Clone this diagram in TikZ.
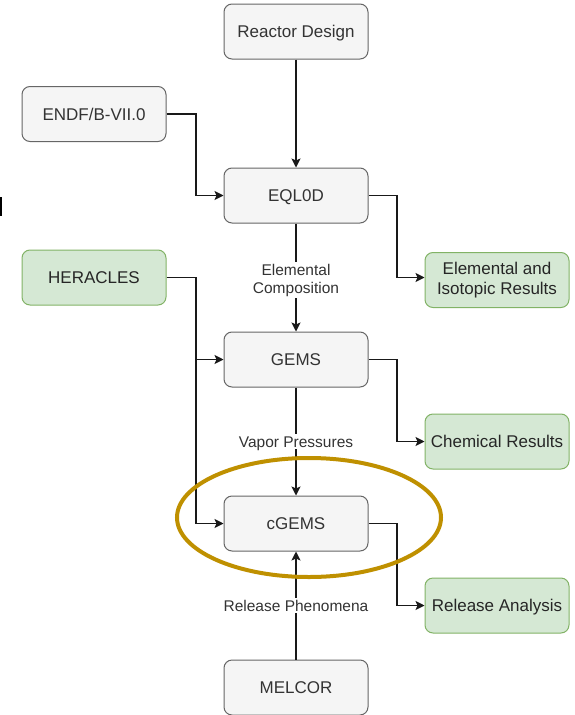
\documentclass[tikz,border=0pt]{standalone}
\usepackage{fontspec}
\setmainfont{Liberation Sans}
\usetikzlibrary{arrows.meta,shapes.geometric}
\definecolor{greyfill}{HTML}{F5F5F5}
\definecolor{greyline}{HTML}{666666}
\definecolor{greytext}{HTML}{333333}
\definecolor{greenfill}{HTML}{D5E8D4}
\definecolor{greenline}{HTML}{82B366}
\definecolor{gold}{HTML}{BF9000}
\tikzset{
  greybox/.style={draw=greyline, fill=greyfill, text=greytext, line width=1pt, rounded corners=8pt,
    minimum width=144pt, minimum height=55pt, inner sep=0pt, align=center,
    font=\fontsize{17}{19.5}\selectfont},
  oneline/.style={text height=12.2pt, text depth=0pt},
  greenbox/.style={greybox, draw=greenline, fill=greenfill, text=black!85},
  conn/.style={draw=black!90, line width=1.2pt, -{Stealth[length=9pt,width=9pt,inset=2pt]}},
  lbl/.style={fill=white, text=greytext, inner sep=1.5pt, align=center, font=\fontsize{15.5}{18}\selectfont},
}
\begin{document}
\begin{tikzpicture}[x=1pt,y=-1pt]
\useasboundingbox (0,0) rectangle (574,715);
\fill[black] (0,197) rectangle (2,216);
\node[greybox,oneline] (reactor) at (296,31.5) {Reactor Design};
\node[greybox,oneline] (endf) at (94,114) {ENDF/B-VII.0};
\node[greybox,oneline] (eql) at (296,195.5) {EQL0D};
\node[greenbox,oneline] (her) at (94,277.5) {HERACLES};
\node[greenbox] (elem) at (497,280) {Elemental and\\Isotopic Results};
\node[greybox,oneline] (gems) at (296,359.5) {GEMS};
\node[greenbox,oneline] (chem) at (497,441.5) {Chemical Results};
\node[greybox,oneline] (cgems) at (296,523.5) {cGEMS};
\node[greenbox,oneline] (rel) at (497,605.5) {Release Analysis};
\node[greybox,oneline] (mel) at (296,687.5) {MELCOR};
\coordinate (lx) at (196,0);
\coordinate (rx) at (397,0);
\draw[conn] (reactor) -- (eql);
\draw[conn] (endf.east) -| (lx |- eql) -- (eql.west);
\draw[conn] (eql.east) -| (rx |- her) -- (elem.west |- her);
\draw[conn] (her.east) -| (lx |- gems) -- (gems.west);
\draw[conn] (her.east) -| (lx |- cgems) -- (cgems.west);
\draw[conn] (gems.east) -| (rx |- chem) -- (chem.west);
\draw[conn] (cgems.east) -| (rx |- rel) -- (rel.west);
\draw[conn] (eql) -- node[lbl, yshift=-2.5pt] {Elemental\\Composition} (gems);
\draw[conn] (gems) -- node[lbl, oneline] {Vapor Pressures} (cgems);
\draw[conn] (mel) -- node[lbl, oneline] {Release Phenomena} (cgems);
\node[draw=gold, line width=4pt, ellipse, minimum width=264pt, minimum height=119pt, inner sep=0pt] (oval) at (309,517.5) {};
\end{tikzpicture}
\end{document}
